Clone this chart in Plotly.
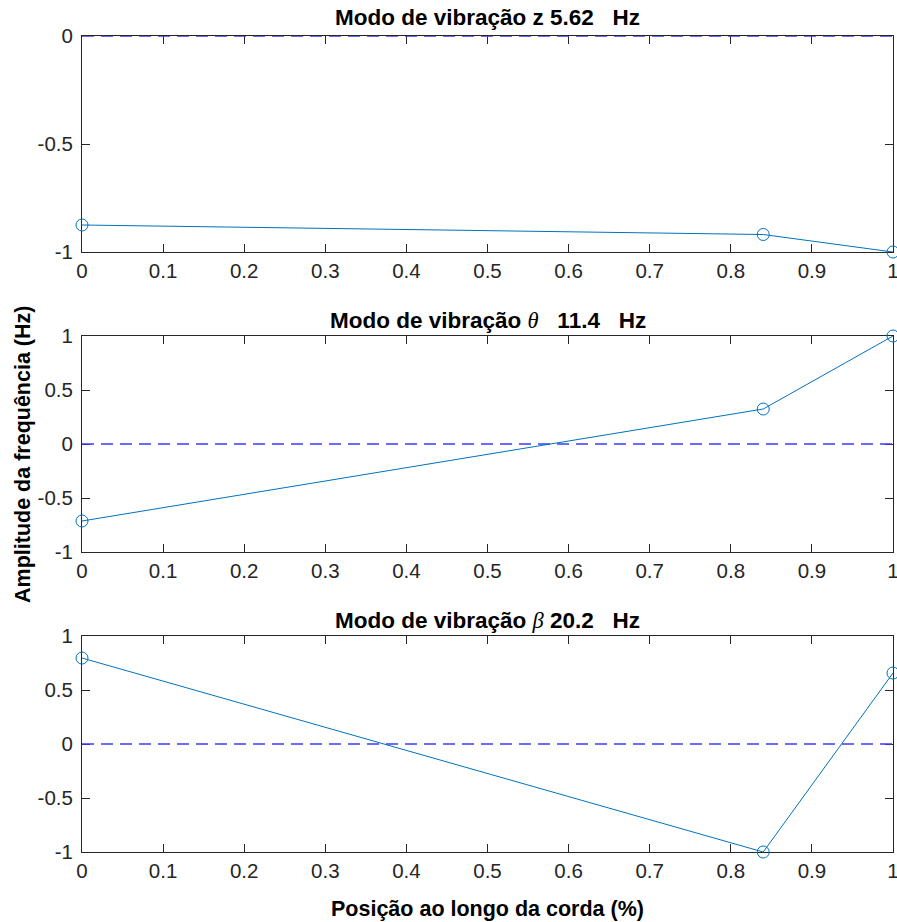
import plotly.graph_objects as go

# Data
x_pos = [0.0, 0.84, 1.0]
mode_z = [-0.875, -0.919, -1.0]
mode_theta = [-0.713, 0.324, 1.0]
mode_beta = [0.796, -1.0, 0.657]
ref_x = [0.0, 1.0]
ref_y = [0.0, 0.0]

NB = "\u00a0"
titles = [
    f"<b>Modo de vibração z 5.62{NB*3}Hz</b>",
    f"<b>Modo de vibração </b><span style='font-family:Liberation Serif;font-style:italic'>θ</span><b>{NB*3}11.4{NB*3}Hz</b>",
    f"<b>Modo de vibração </b><span style='font-family:Liberation Serif;font-style:italic'>β</span><b> 20.2{NB*3}Hz</b>",
]
series = [mode_z, mode_theta, mode_beta]
y_ranges = [[-1, 0], [-1, 1], [-1, 1]]
y_ticks = [[-1, -0.5, 0], [-1, -0.5, 0, 0.5, 1], [-1, -0.5, 0, 0.5, 1]]
y_ticktext = [["-1", "-0.5", "0"], ["-1", "-0.5", "0", "0.5", "1"], ["-1", "-0.5", "0", "0.5", "1"]]
x_ticks = [0, 0.1, 0.2, 0.3, 0.4, 0.5, 0.6, 0.7, 0.8, 0.9, 1]
x_ticktext = ["0", "0.1", "0.2", "0.3", "0.4", "0.5", "0.6", "0.7", "0.8", "0.9", "1"]

W, H = 897, 922
ML, MR = 82, 4
pix = [(36, 252), (336, 552), (636, 852)]
title_pix = [18, 320, 620]
domains = [[1 - b / H, 1 - t / H] for t, b in pix]

BLUE = "#0072BD"
AX = "#262626"
FONT = "Liberation Sans, Arial, sans-serif"
TICKSIZE = 20.5
TITLESIZE = 22.5
LABSIZE = 21.5

fig = go.Figure()
layout = dict(
    width=W, height=H,
    margin=dict(l=ML, r=MR, t=0, b=0, autoexpand=False),
    paper_bgcolor="white", plot_bgcolor="white",
    showlegend=False,
    font=dict(family=FONT, size=TICKSIZE, color=AX),
)
annotations = []
for i in range(3):
    xa = "x" if i == 0 else f"x{i+1}"
    ya = "y" if i == 0 else f"y{i+1}"
    fig.add_trace(go.Scatter(x=ref_x, y=ref_y, mode="lines", xaxis=xa, yaxis=ya,
                             line=dict(color="#3b3bff", width=1.3, dash="12px,7px"),
                             cliponaxis=False, hoverinfo="skip"))
    fig.add_trace(go.Scatter(x=x_pos, y=series[i], mode="lines+markers", xaxis=xa, yaxis=ya,
                             line=dict(color=BLUE, width=1),
                             marker=dict(symbol="circle-open", size=12, color=BLUE, line=dict(width=1)),
                             cliponaxis=False))
    xkey = "xaxis" if i == 0 else f"xaxis{i+1}"
    ykey = "yaxis" if i == 0 else f"yaxis{i+1}"
    layout[xkey] = dict(
        domain=[0, 1], anchor=ya, range=[0, 1], tickvals=x_ticks, ticktext=x_ticktext,
        ticks="inside", ticklen=8, tickcolor=AX, tickwidth=1,
        showline=True, linecolor=AX, linewidth=1, mirror="ticks",
        showgrid=False, zeroline=False, automargin=False, ticklabeloverflow="allow",
        tickfont=dict(size=TICKSIZE, color=AX, family=FONT),
        layer="below traces",
    )
    layout[ykey] = dict(
        domain=domains[i], anchor=xa, range=y_ranges[i], tickvals=y_ticks[i], ticktext=y_ticktext[i],
        ticks="inside", ticklen=8, tickcolor=AX, tickwidth=1, ticklabelstandoff=4,
        showline=True, linecolor=AX, linewidth=1, mirror="ticks",
        showgrid=False, zeroline=False, automargin=False, ticklabeloverflow="allow",
        tickfont=dict(size=TICKSIZE, color=AX, family=FONT),
        layer="below traces",
    )
    annotations.append(dict(text=titles[i], x=0.5, y=1 - title_pix[i] / H, xref="paper", yref="paper",
                            xanchor="center", yanchor="middle", showarrow=False,
                            font=dict(size=TITLESIZE, color="black", family=FONT)))

PW = W - ML - MR
annotations.append(dict(text="<b>Amplitude da frequência (Hz)</b>", x=(23 - ML) / PW,
                        y=1 - 455 / H, xref="paper", yref="paper", textangle=-90,
                        xanchor="center", yanchor="middle", showarrow=False,
                        font=dict(size=LABSIZE, color="black", family=FONT)))
annotations.append(dict(text="<b>Posição ao longo da corda (%)</b>", x=0.5, y=1 - 909 / H,
                        xref="paper", yref="paper", xanchor="center", yanchor="middle",
                        showarrow=False, font=dict(size=LABSIZE, color="black", family=FONT)))
layout["annotations"] = annotations
fig.update_layout(**layout)
fig.write_html("out.html")
